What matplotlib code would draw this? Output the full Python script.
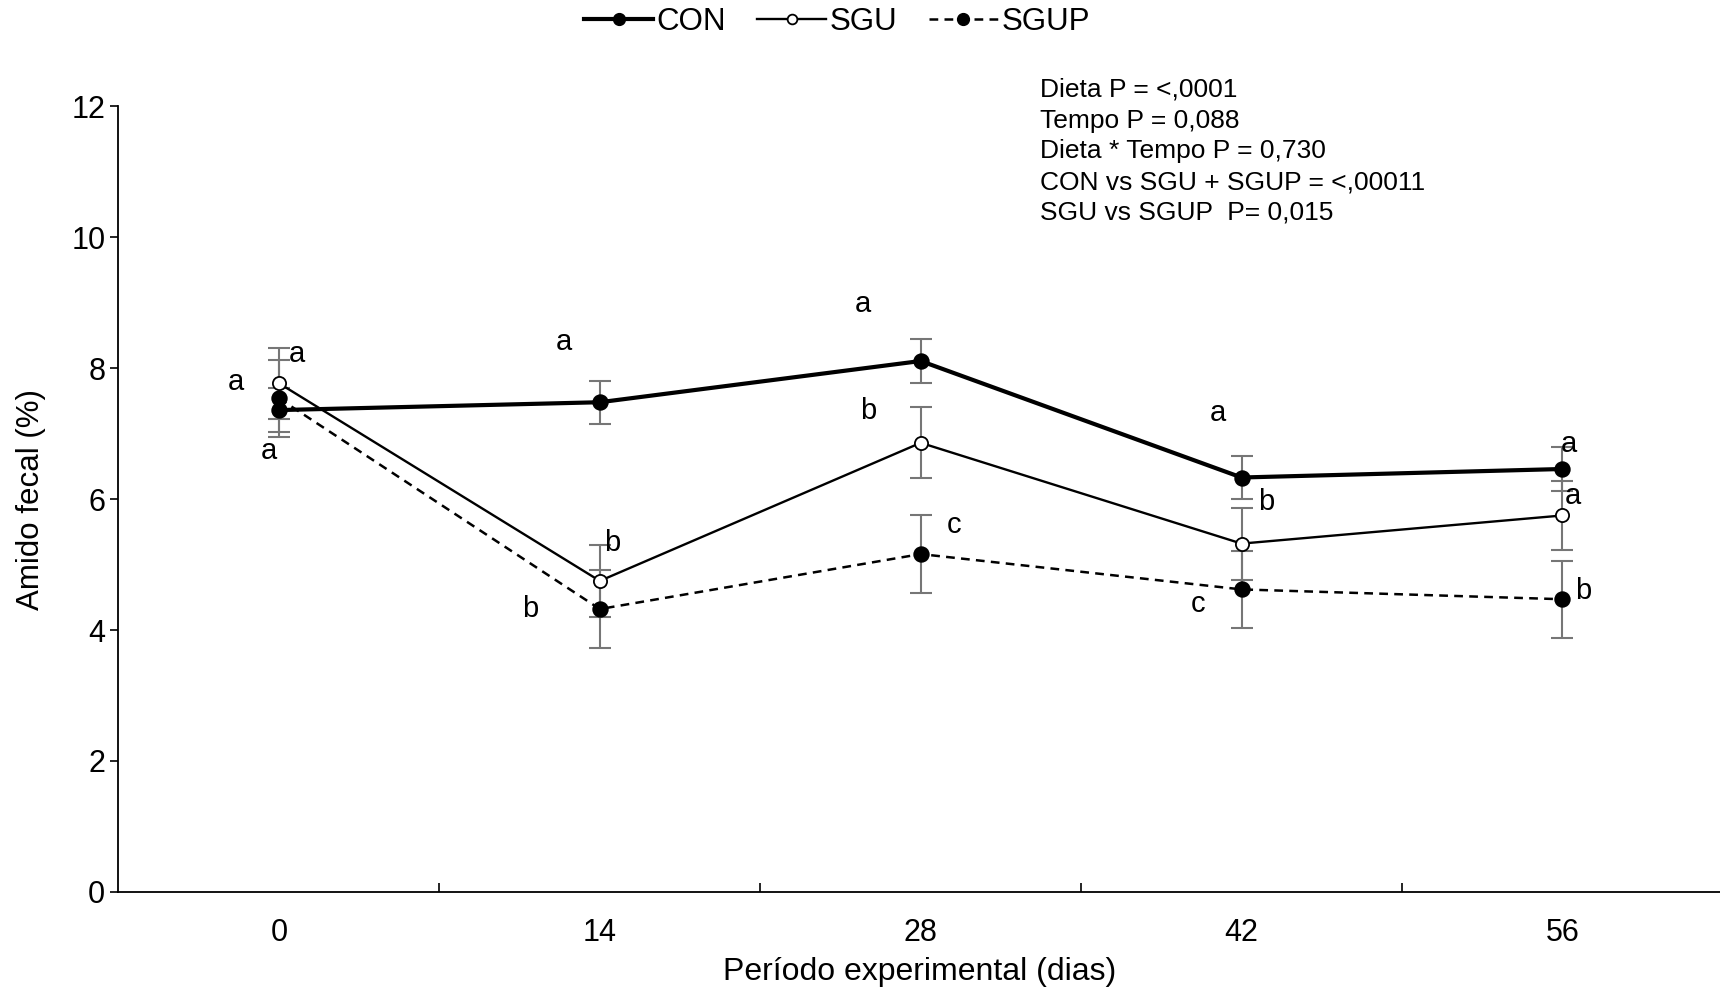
import numpy as np
import matplotlib
matplotlib.use("Agg")
import matplotlib.pyplot as plt
from matplotlib.lines import Line2D

plt.rcParams['font.family'] = ['Liberation Sans', 'DejaVu Sans']

# dados
dias = ['0', '14', '28', '42', '56']
con = [7.36, 7.48, 8.11, 6.33, 6.46]
sgu = [7.77, 4.75, 6.86, 5.32, 5.75]
sgup = [7.54, 4.32, 5.16, 4.62, 4.47]
erro_con = [0.33, 0.33, 0.33, 0.33, 0.33]
erro_sgu = [0.54, 0.55, 0.54, 0.55, 0.53]
erro_sgup = [0.59, 0.59, 0.59, 0.59, 0.59]

letras_con = ['a', 'a', 'a', 'a', 'a']
letras_sgu = ['a', 'b', 'b', 'b', 'a']
letras_sgup = ['a', 'b', 'c', 'c', 'b']

estatisticas = [
    "Dieta P = <,0001",
    "Tempo P = 0,088",
    "Dieta * Tempo P = 0,730",
    "CON vs SGU + SGUP = <,00011",
    "SGU vs SGUP  P= 0,015",
]

# deslocamento das letras em relacao ao ponto (dx em categorias, dy em %)
desl_con = [(-0.133, 0.43), (-0.111, 0.92), (-0.181, 0.87), (-0.074, 0.99), (0.021, 0.38)]
desl_sgu = [(0.055, 0.44), (0.039, 0.58), (-0.164, 0.48), (0.077, 0.63), (0.031, 0.30)]
desl_sgup = [(-0.031, -0.80), (-0.217, 0.0), (0.103, 0.44), (-0.135, -0.23), (0.065, 0.12)]

x = np.arange(len(dias))

fig = plt.figure(figsize=(17.2, 9.97), dpi=100)
ax = fig.add_axes([118.5 / 1720, 1 - 891.8 / 997, 1604.4 / 1720, (891.8 - 106.4) / 997])

series = [
    (con, erro_con, letras_con, desl_con, dict(lw=3.0, ls='-', ms=10.5, mfc='black')),
    (sgu, erro_sgu, letras_sgu, desl_sgu, dict(lw=1.7, ls='-', ms=9.5, mfc='white')),
    (sgup, erro_sgup, letras_sgup, desl_sgup, dict(lw=1.8, ls=(0, (3.5, 2.5)), ms=10.5, mfc='black')),
]

for vals, erros, letras, desl, estilo in series:
    ax.errorbar(x, vals, yerr=erros, fmt='none', ecolor='#767676',
                elinewidth=1.5, capsize=8, capthick=1.5, zorder=2)
    ax.plot(x, vals, color='black', marker='o', mec='black', mew=1.3,
            zorder=3, **estilo)
    for i, let in enumerate(letras):
        ax.text(x[i] + desl[i][0], vals[i] + desl[i][1], let, fontsize=21,
                ha='center', va='center', zorder=4)

ax.set_xlim(-0.5, 4.5)
ax.set_ylim(0, 12)
ax.set_yticks(np.arange(0, 13, 2))
ax.set_xticks(x)
ax.set_xticklabels(dias)
ax.set_xticks(x[:-1] + 0.5, minor=True)
ax.tick_params(axis='x', which='major', length=0, pad=19, labelsize=22)
ax.tick_params(axis='x', which='minor', direction='in', length=6.5, width=1.2)
ax.tick_params(axis='y', direction='out', length=6, width=1.2, pad=3.5, labelsize=22)
for lado in ['top', 'right']:
    ax.spines[lado].set_visible(False)
for lado in ['left', 'bottom']:
    ax.spines[lado].set_linewidth(1.3)

fig.text(31 / 1720, 1 - 500 / 997, "Amido fecal (%)", rotation=90,
         ha='center', va='center', fontsize=22.5)
fig.text(920 / 1720, 1 - 972 / 997, "Período experimental (dias)",
         ha='center', va='center', fontsize=23)

for k, linha in enumerate(estatisticas):
    fig.text(1040 / 1720, 1 - (90 + 30.7 * k) / 997, linha,
             ha='left', va='center', fontsize=19)

handles = [
    Line2D([], [], color='black', lw=3.0, marker='o', ms=8.5, mfc='black', mec='black'),
    Line2D([], [], color='black', lw=1.7, marker='o', ms=7, mfc='white', mec='black', mew=1.3),
    Line2D([], [], color='black', lw=1.8, ls=(0, (3.5, 2.5)), marker='o', ms=8.5, mfc='black', mec='black'),
]
fig.legend(handles, ['CON', 'SGU', 'SGUP'], loc='center', ncol=3,
           bbox_to_anchor=(0.4866, 1 - 22 / 997), frameon=False, fontsize=22.5,
           handlelength=2.2, handletextpad=0.12, columnspacing=1.0,
           borderaxespad=0, borderpad=0)

fig.savefig("out.png", dpi=100)
